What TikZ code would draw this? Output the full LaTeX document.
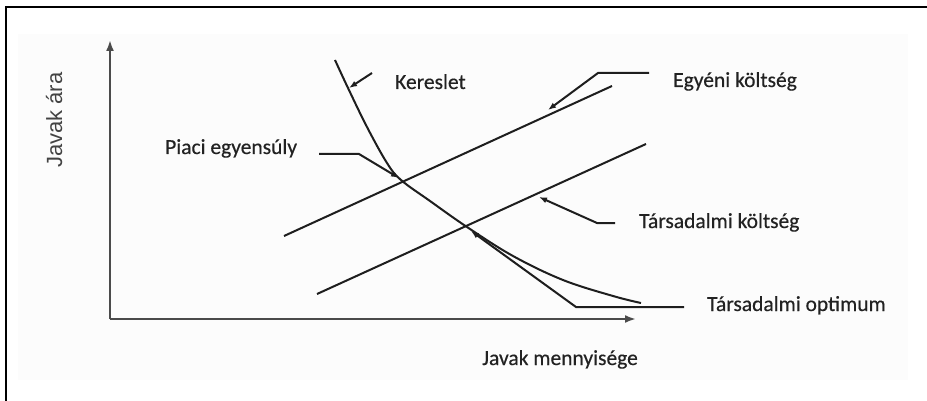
\documentclass[tikz,border=0pt]{standalone}
\usepackage{fontspec}
\setmainfont{Carlito}[FakeBold=0.4]
\newfontfamily\axfont{Liberation Sans}
\usetikzlibrary{arrows.meta}
\definecolor{ink}{HTML}{1E1E1E}
\definecolor{txt}{HTML}{222222}
\definecolor{bgpanel}{HTML}{FCFCFC}
\begin{document}
\begin{tikzpicture}[x=1pt,y=-1pt,
  curveline/.style={draw=ink,line width=2pt},
  axisline/.style={draw=ink!80,line width=2.4pt,-{Latex[length=11pt,width=8pt]}},
  leader/.style={draw=ink,line width=2pt,-{Latex[length=8pt,width=6pt]}},
  lbl/.style={inner sep=0pt,anchor=base west,text=txt,font=\fontsize{21.5}{24}\selectfont},
  axlbl/.style={inner sep=0pt,text=txt!85,font=\axfont\fontsize{22}{24}\selectfont}]
\useasboundingbox (0,0) rectangle (927,401);
% panel and frame
\fill[bgpanel] (18,34) rectangle (908,380);
\draw[black,line width=2pt] (6,401) -- (6,7) -- (927,7);
% axes
\coordinate (O) at (110,319);
\coordinate (xe) at (636,319);
\coordinate (ye) at (110,40);
\draw[axisline] (O) -- (xe);
\draw[axisline] (O) -- (ye);
% demand curve
\draw[curveline] plot[smooth,tension=0.6] coordinates {(335,60) (348,88) (367,127) (387,163) (401,180) (430,201) (467,227) (513,256) (563,280) (613,296) (641,303)};
% cost lines
\coordinate (e1) at (284,236); \coordinate (e2) at (612,86);
\coordinate (t1) at (317,294); \coordinate (t2) at (646,144);
\draw[curveline] (e1) -- (e2);
\draw[curveline] (t1) -- (t2);
% labels
\node[lbl] (ker) at (395,89) {Kereslet};
\node[lbl] (egy) at (673,87) {Egyéni költség};
\node[lbl] (pia) at (165,154) {Piaci egyensúly};
\node[lbl] (tko) at (639,228) {Társadalmi költség};
\node[lbl] (opt) at (707,311) {Társadalmi optimum};
\node[lbl] (xl) at (482,365) {Javak mennyisége};
\node[axlbl,anchor=base west,rotate=90] (yl) at (62,168) {Javak ára};
% leaders
\coordinate (kA) at (372,73); \coordinate (kT) at (349,88);
\draw[leader] (kA) -- (kT);
\coordinate (gA) at (649,73); \coordinate (gB) at (598,73); \coordinate (gT) at (548,110);
\draw[leader] (gA) -- (gB) -- (gT);
\coordinate (pA) at (319,154); \coordinate (pB) at (359,154); \coordinate (pT) at (399,178);
\draw[leader] (pA) -- (pB) -- (pT);
\coordinate (sA) at (615,223); \coordinate (sB) at (597,223); \coordinate (sT) at (539,197);
\draw[leader] (sA) -- (sB) -- (sT);
\coordinate (oA) at (684,307); \coordinate (oB) at (576,307); \coordinate (oT) at (471,231);
\draw[leader] (oA) -- (oB) -- (oT);
\end{tikzpicture}
\end{document}
